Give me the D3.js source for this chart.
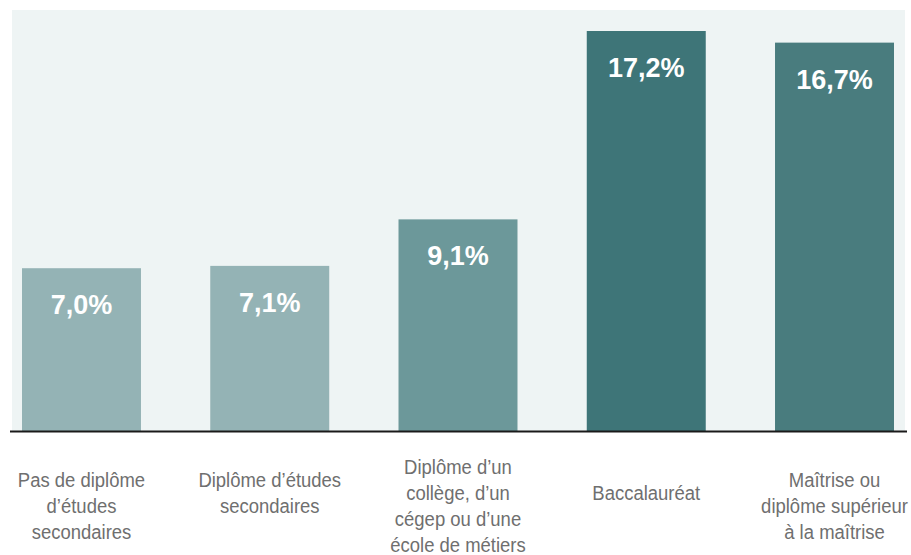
<!DOCTYPE html>
<html>
<head>
<meta charset="utf-8">
<script src="https://cdn.jsdelivr.net/npm/d3@7"></script>
<style>
  html, body { margin: 0; padding: 0; background: #ffffff; }
  svg { display: block; }
  .cat { font-family: "Liberation Sans", Arial, sans-serif; font-size: 21px; fill: #6f6f6f; }
  .val { font-family: "Liberation Sans", Arial, sans-serif; font-weight: bold; font-size: 27px; fill: #ffffff; }
</style>
</head>
<body>
<svg id="chart" width="911" height="555"></svg>
<script>
// Share by highest level of education attained
const categories = [
  "Pas de diplôme d'études secondaires",
  "Diplôme d'études secondaires",
  "Diplôme d'un collège, d'un cégep ou d'une école de métiers",
  "Baccalauréat",
  "Maîtrise ou diplôme supérieur à la maîtrise"
];
const categoryLines = [
  ["Pas de diplôme", "d\u2019études", "secondaires"],
  ["Diplôme d\u2019études", "secondaires"],
  ["Diplôme d\u2019un", "collège, d\u2019un", "cégep ou d\u2019une", "école de métiers"],
  ["Baccalauréat"],
  ["Maîtrise ou", "diplôme supérieur", "à la maîtrise"]
];
const values = [7.0, 7.1, 9.1, 17.2, 16.7];
const valueLabels = ["7,0%", "7,1%", "9,1%", "17,2%", "16,7%"];
const barColors = ["#94b3b5", "#94b3b5", "#6c989a", "#3e7578", "#497c7e"];

const svg = d3.select("#chart");
const panel = { left: 12, right: 905, top: 10, baseline: 431 };

// plot panel
svg.append("rect")
  .attr("x", panel.left).attr("y", panel.top)
  .attr("width", panel.right - panel.left)
  .attr("height", panel.baseline - panel.top)
  .attr("fill", "#eef4f4");

const x = d3.scaleBand()
  .domain(d3.range(categories.length))
  .range([22, 894])
  .paddingInner(0.368)
  .paddingOuter(0);

const y = d3.scaleLinear().domain([0, 17.2]).range([panel.baseline, 31]);

svg.selectAll("rect.bar").data(values).join("rect")
  .attr("class", "bar")
  .attr("x", (d, i) => x(i))
  .attr("y", d => y(d))
  .attr("width", x.bandwidth())
  .attr("height", d => y(0) - y(d))
  .attr("fill", (d, i) => barColors[i]);

svg.selectAll("text.val").data(values).join("text")
  .attr("class", "val")
  .attr("x", (d, i) => x(i) + x.bandwidth() / 2)
  .attr("y", d => y(d) + 46)
  .attr("text-anchor", "middle")
  .text((d, i) => valueLabels[i]);

// baseline axis
svg.append("line")
  .attr("x1", 10).attr("x2", 907)
  .attr("y1", panel.baseline + 0.5).attr("y2", panel.baseline + 0.5)
  .attr("stroke", "#1a1a1a").attr("stroke-width", 2);

// category labels, stacked lines in a narrowed face
const lineH = 26;
categoryLines.forEach((lines, i) => {
  const cx = x(i) + x.bandwidth() / 2;
  const cy = lines.length >= 3 ? 506 : 493;
  const y0 = cy - (lines.length - 1) * lineH / 2;
  const t = svg.append("text")
    .attr("class", "cat")
    .attr("text-anchor", "middle")
    .attr("transform", `translate(${cx},0) scale(0.88,1)`);
  lines.forEach((ln, j) => {
    t.append("tspan")
      .attr("x", 0)
      .attr("y", y0 + j * lineH)
      .attr("dy", "0.35em")
      .text(ln);
  });
});
</script>
</body>
</html>
